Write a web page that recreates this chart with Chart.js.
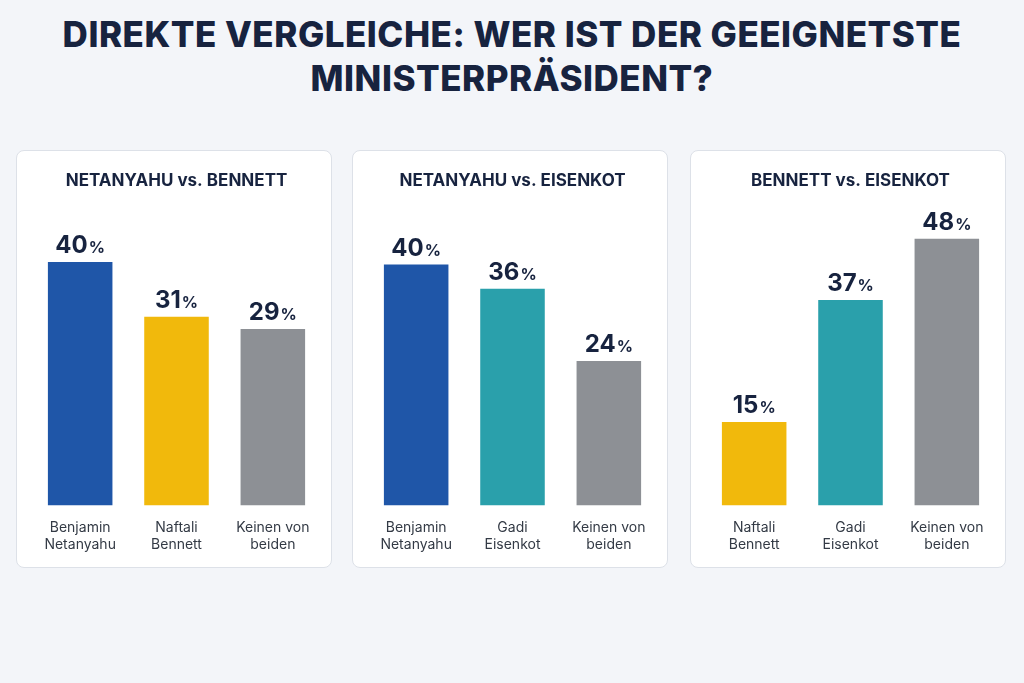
<!DOCTYPE html>
<html><head><meta charset="utf-8">
<script src="https://cdn.jsdelivr.net/npm/chart.js@4"></script>
<style>
body{margin:0;background:#f3f5f9;font-family:Inter,"Noto Sans",sans-serif;width:1024px;height:683px;overflow:hidden}
h1{margin:0;position:absolute;top:12px;left:0;width:1024px;text-align:center;font-size:35px;line-height:44px;font-weight:800;color:#17233f;letter-spacing:0.5px}
.panel{position:absolute;top:150px;width:316px;height:418px;background:#fff;border:1px solid #dde1e8;border-radius:8px;box-sizing:border-box}
canvas{display:block}
</style></head><body>
<h1>DIREKTE VERGLEICHE: WER IST DER GEEIGNETSTE<br>MINISTERPRÄSIDENT?</h1>
<div class="panel" style="left:16px"><canvas id="c1"></canvas></div>
<div class="panel" style="left:352px"><canvas id="c2"></canvas></div>
<div class="panel" style="left:690px"><canvas id="c3"></canvas></div>
<script>
const titles = ['NETANYAHU vs. BENNETT', 'NETANYAHU vs. EISENKOT', 'BENNETT vs. EISENKOT'];
const labels1 = [['Benjamin', 'Netanyahu'], ['Naftali', 'Bennett'], ['Keinen von', 'beiden']];
const labels2 = [['Benjamin', 'Netanyahu'], ['Gadi', 'Eisenkot'], ['Keinen von', 'beiden']];
const labels3 = [['Naftali', 'Bennett'], ['Gadi', 'Eisenkot'], ['Keinen von', 'beiden']];
const values1 = [40, 31, 29];
const values2 = [40, 36, 24];
const values3 = [15, 37, 48];
const yMax = [47, 47.5, 51.5];

const BLUE = '#1f56a8', YELLOW = '#f1b90c', GREY = '#8d9095', TEAL = '#2aa0ab';
const colors = [[BLUE, YELLOW, GREY], [BLUE, TEAL, GREY], [YELLOW, TEAL, GREY]];

const valueLabels = {
  id: 'valueLabels',
  afterDatasetsDraw(chart) {
    const ctx = chart.ctx;
    const meta = chart.getDatasetMeta(0);
    meta.data.forEach((bar, i) => {
      const v = String(chart.data.datasets[0].data[i]);
      ctx.save();
      ctx.fillStyle = '#17233f';
      ctx.textBaseline = 'alphabetic';
      ctx.font = 'bold 24px Inter, sans-serif';
      const w1 = ctx.measureText(v).width;
      ctx.font = 'bold 16px Inter, sans-serif';
      const w2 = ctx.measureText('%').width;
      const x0 = bar.x - (w1 + w2 + 1) / 2;
      const y = bar.y - 9;
      ctx.font = 'bold 24px Inter, sans-serif';
      ctx.fillText(v, x0, y);
      ctx.font = 'bold 16px Inter, sans-serif';
      ctx.fillText('%', x0 + w1 + 1, y);
      ctx.restore();
    });
  }
};

function makeChart(id, idx, labels, values) {
  new Chart(document.getElementById(id), {
    type: 'bar',
    data: { labels: labels, datasets: [{ data: values, backgroundColor: colors[idx], borderWidth: 0, barPercentage: 0.67, categoryPercentage: 1 }] },
    options: {
      responsive: false, animation: false,
      layout: { padding: { left: 15, right: 10, top: 10, bottom: 8 } },
      plugins: {
        legend: { display: false }, tooltip: { enabled: false },
        title: { display: true, text: titles[idx], color: '#17233f', font: { size: 17, weight: 'bold', family: 'Inter' }, padding: { top: 10, bottom: 28 } }
      },
      scales: {
        y: { display: false, min: 0, max: yMax[idx] },
        x: { grid: { display: false }, border: { display: false },
             ticks: { color: '#333a45', font: { size: 14, family: 'Inter' }, padding: 6 } }
      }
    },
    plugins: [valueLabels]
  });
}
['c1', 'c2', 'c3'].forEach(id => { const c = document.getElementById(id); c.width = 314; c.height = 416; });
makeChart('c1', 0, labels1, values1);
makeChart('c2', 1, labels2, values2);
makeChart('c3', 2, labels3, values3);
</script>
</body></html>
